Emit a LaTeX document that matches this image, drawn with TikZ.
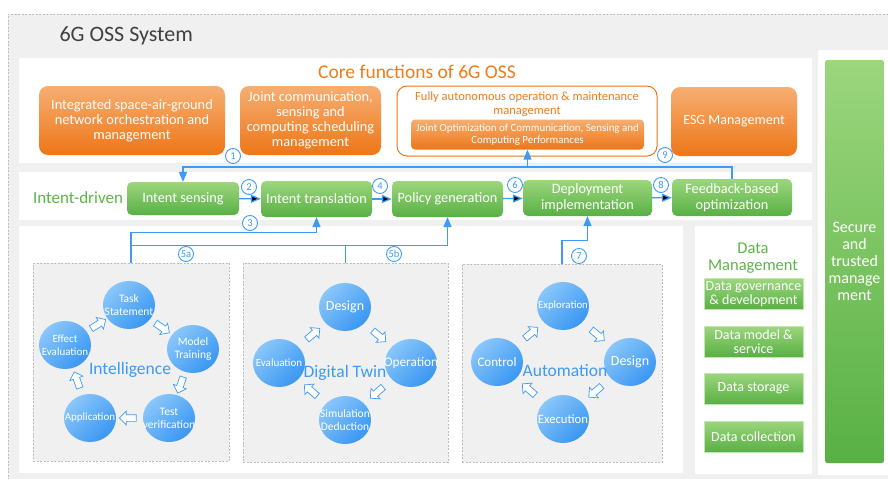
\documentclass[tikz,border=0pt]{standalone}
\usepackage{fontspec}
\setmainfont{Carlito}
\usetikzlibrary{arrows,calc,positioning,shapes.geometric,shapes.arrows}
\definecolor{bggray}{HTML}{F0F0F0}
\definecolor{framegray}{HTML}{BDBDBD}
\definecolor{orlight}{HTML}{F6AE72}
\definecolor{ordark}{HTML}{EE7617}
\definecolor{ortext}{HTML}{F07C1C}
\definecolor{grlight}{HTML}{9CD67D}
\definecolor{grdark}{HTML}{58B044}
\definecolor{grtext}{HTML}{5CB548}
\definecolor{bllight}{HTML}{8AC6FA}
\definecolor{bldark}{HTML}{3A97F2}
\definecolor{flowblue}{HTML}{3D9BF5}
\definecolor{titlegray}{HTML}{404040}
\newcommand{\fsz}[2]{\fontsize{#1}{#2}\selectfont}

\begin{document}
\begin{tikzpicture}[x=1pt,y=-1pt,>=triangle 45,
		orbox/.style={rectangle,rounded corners=9,top color=orlight,bottom color=ordark,text=white,align=center,inner sep=1,font=\fsz{14.3}{15}},
		grbox/.style={rectangle,rounded corners=5,top color=grlight,bottom color=grdark,text=white,align=center,inner sep=0,font=\fsz{14.3}{16}},
		databox/.style={rectangle,top color=grlight,bottom color=grdark,draw=grlight!60,text=white,align=center,inner sep=0,minimum width=99,minimum height=31,font=\fsz{14}{14}},
		cycbox/.style={rectangle,draw=framegray,dash pattern=on 2pt off 1.5pt,fill=bggray},
		cyc/.style={ellipse,minimum width=52,minimum height=48,inner sep=0,top color=bllight,bottom color=bldark,shading angle=45},
		cyctext/.style={text=white,align=center,font=\fsz{11.5}{13}},
		cycarrow/.style={single arrow,draw=flowblue,fill=white,line width=0.7,minimum height=17,inner sep=3,single arrow head extend=3.5,sloped,allow upside down},
		cyclabel/.style={text=flowblue,font=\fsz{17.5}{17.5}},
		flow/.style={->,draw=flowblue,line width=1.3},
		num/.style={circle,draw=flowblue,fill=white,text=flowblue,line width=0.9,minimum size=15,inner sep=0,font=\fsz{10.5}{10.5}}]
		\useasboundingbox (0,0) rectangle (888,479);
		\fill[bggray] (8,14) rectangle (888,479);
		\draw[framegray,dash pattern=on 2pt off 1.5pt] (888,14) -- (8,14) -- (8,479);
		\fill[white] (19,58) rectangle (812,163);
		\fill[white] (19,172) rectangle (812,220);
		\fill[white] (19,226) rectangle (683,473);
		\fill[white] (695,226) rectangle (812,474);
		\fill[white] (818,50) rectangle (888,475);
		\node[anchor=west,text=titlegray,font=\fsz{22}{22}] (title) at (56,36) {6G OSS System};
		
		\node[text=ortext,font=\fsz{19.5}{19.5}] (core) at (417,72) {Core functions of 6G OSS};
		\node[orbox,minimum width=186,minimum height=69] (sag) at (132,120.5) {Integrated space-air-ground\\network orchestration and\\management};
		\node[orbox,minimum width=141,minimum height=69] (jcs) at (310.5,120.5) {Joint communication,\\sensing and\\computing scheduling\\management};
		\node[rectangle,rounded corners=10,draw=ordark,line width=1,fill=white,minimum width=260,minimum height=70] (fao) at (527,121) {};
		\node[text=ortext,align=center,font=\fsz{12.5}{14}] (faotext) at (527,104) {Fully autonomous operation \& maintenance\\management};
		\node[orbox,rounded corners=4,minimum width=233,minimum height=30,font=\fsz{10.9}{11.5}] (jop) at (527.5,134.5) {Joint Optimization of Communication, Sensing and\\Computing Performances};
		\node[orbox,minimum width=126,minimum height=69,font=\fsz{14}{16}] (esg) at (734,121.5) {ESG Management};
		
		\node[text=grtext,font=\fsz{17}{17}] (idr) at (78,198) {Intent-driven};
		\node[grbox,minimum width=112,minimum height=33] (sens) at (183,198.5) {Intent sensing};
		\node[grbox,minimum width=111,minimum height=36] (trans) at (316.5,199) {Intent translation};
		\node[grbox,minimum width=111,minimum height=36] (pol) at (447.5,199) {Policy generation};
		\node[grbox,minimum width=129,minimum height=36] (dep) at (587.5,198) {Deployment\\implementation};
		\node[grbox,minimum width=120,minimum height=37] (fb) at (732,197.5) {Feedback-based\\optimization};
		
		\node[text=grtext,align=center,font=\fsz{16.5}{16.5}] (dm) at (753,258) {Data\\Management};
		\node[databox] (dgov) at (753.5,294) {Data governance\\\& development};
		\node[databox] (dmod) at (753.5,341.5) {Data model \&\\service};
		\node[databox] (dsto) at (753.5,388.5) {Data storage};
		\node[databox] (dcol) at (753.5,436.5) {Data collection};
		\node[rectangle,rounded corners=2,top color=grlight,bottom color=grdark,minimum width=57,minimum height=403,text=white,align=center,font=\fsz{16}{17}] (sec) at (854.5,261.5) {Secure\\and\\trusted\\manage\\ment};
		
		\node[cycbox,minimum width=196,minimum height=198] (intel) at (131,362) {};
		\node[cycbox,minimum width=205,minimum height=199] (twin) at (345.5,362.5) {};
		\node[cycbox,minimum width=200,minimum height=198] (autom) at (562,363) {};
		
		\node[cyc,label={[cyctext]center:Task\\Statement}] (task) at (129,305) {};
		\node[cyc,label={[cyctext]center:Model\\Training}] (model) at (193,349) {};
		\node[cyc,label={[cyctext]center:Test\\verification}] (test) at (169,418) {};
		\node[cyc,label={[cyctext,font=\fsz{11}{11}]center:Application}] (appl) at (90,418) {};
		\node[cyc,label={[cyctext,font=\fsz{11}{13}]center:Effect\\Evaluation}] (effect) at (65,345) {};
		\node[cyclabel] (intelname) at (130,370) {Intelligence};
		\path (task) -- node[cycarrow] (ia1) {} (model)
		(model) -- node[cycarrow] (ia2) {} (test)
		(test) -- node[cycarrow] (ia3) {} (appl)
		(appl) -- node[cycarrow] (ia4) {} (effect)
		(effect) -- node[cycarrow] (ia5) {} (task);
		
		\node[cyc,label={[cyctext,font=\fsz{14}{14}]center:Design}] (tdes) at (345,307) {};
		\node[cyc,label={[cyctext,font=\fsz{13.3}{13.3}]center:Operation}] (top) at (411,363) {};
		\node[cyc,label={[cyctext]center:Simulation\\Deduction}] (tsim) at (345,420) {};
		\node[cyc,label={[cyctext,font=\fsz{11}{11}]center:Evaluation}] (teva) at (279,363) {};
		\node[cyclabel] (twinname) at (345,373) {Digital Twin};
		\path (tdes) -- node[cycarrow] (ta1) {} (top)
		(top) -- node[cycarrow] (ta2) {} (tsim)
		(tsim) -- node[cycarrow] (ta3) {} (teva)
		(teva) -- node[cycarrow] (ta4) {} (tdes);
		
		\node[cyc,label={[cyctext,font=\fsz{10.8}{10.8}]center:Exploration}] (aexp) at (563,306) {};
		\node[cyc,label={[cyctext,font=\fsz{14}{14}]center:Design}] (ades) at (630,362) {};
		\node[cyc,label={[cyctext,font=\fsz{12.7}{12.7}]center:Execution}] (aexe) at (563,419) {};
		\node[cyc,label={[cyctext,font=\fsz{13}{13}]center:Control}] (acon) at (497,362) {};
		\node[cyclabel] (autoname) at (565,371) {Automation};
		\path (aexp) -- node[cycarrow] (aa1) {} (ades)
		(ades) -- node[cycarrow] (aa2) {} (aexe)
		(aexe) -- node[cycarrow] (aa3) {} (acon)
		(acon) -- node[cycarrow] (aa4) {} (aexp);
		
		\coordinate (bus) at (183,167);
		\coordinate (b3) at ($(trans.south)+(0,15)$);
		\coordinate (b5) at ($(pol.south)+(0,28)$);
		\coordinate (b7) at ($(dep.south)+(0,24)$);
		\draw[flow] (fb.north) |- (bus) -- (sens.north);
		\draw[flow] (jop.south |- bus) -- (jop.south);
		\path[flow]
		(sens) edge (trans)
		(trans) edge (pol)
		(pol) edge (dep)
		(dep) edge (fb);
		\draw[flow] (intel.north) |- (b3) -- (trans.south);
		\draw[flow] (intel.north) |- (b5) -- (pol.south);
		\draw[flowblue,line width=1.3] (twin.north) -- (twin.north |- b5);
		\draw[flow] (autom.north) |- (b7) -- (dep.south);
		
		\node[num] (n1) at (233,156) {1};
		\node[num] (n2) at (249,187) {2};
		\node[num] (n3) at (250,223) {3};
		\node[num] (n4) at (380,186) {4};
		\node[num] (n5a) at (186,254) {5a};
		\node[num] (n5b) at (394,254) {5b};
		\node[num] (n6) at (515,185) {6};
		\node[num] (n7) at (579,256) {7};
		\node[num] (n8) at (661,185) {8};
		\node[num] (n9) at (665,155) {9};
\end{tikzpicture}
\end{document}
